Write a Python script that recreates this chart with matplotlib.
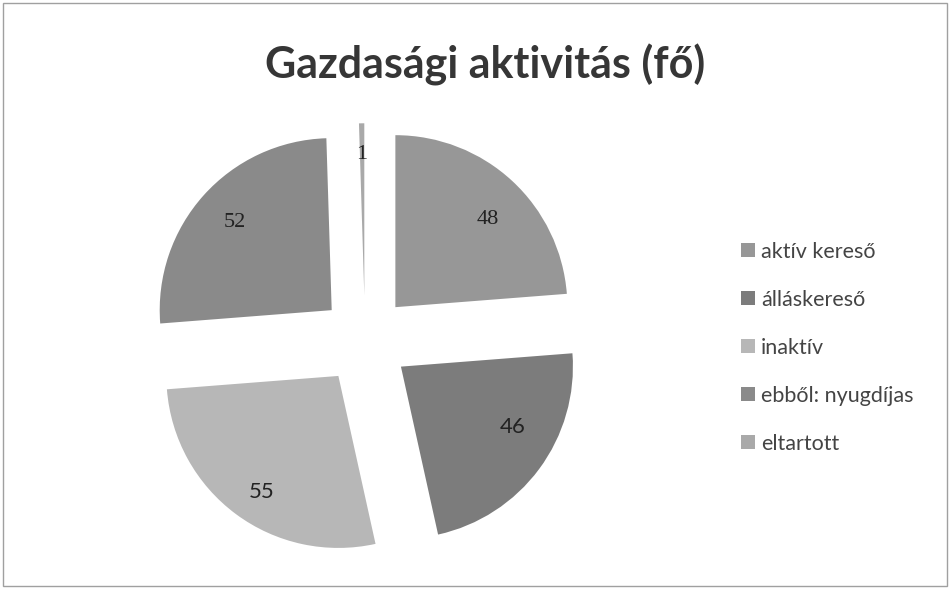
import matplotlib
matplotlib.use("Agg")
import numpy as np
import matplotlib.pyplot as plt
from matplotlib.patches import Rectangle, Patch

title = "Gazdasági aktivitás (fő)"
categories = ["aktív kereső", "álláskereső", "inaktív", "ebből: nyugdíjas", "eltartott"]
values = [48, 46, 55, 52, 1]
colors = ["#979797", "#7c7c7c", "#b7b7b7", "#8a8a8a", "#a9a9a9"]

W, H = 950, 589
fig = plt.figure(figsize=(W / 100, H / 100), dpi=100)
fig.patch.set_facecolor("white")

R_px = 172.0
cx, cy = 365.0, 340.0
box = 500.0
lim = box / 2 / R_px
ax = fig.add_axes([(cx - box / 2) / W, (H - cy - box / 2) / H, box / W, box / H])

explode = 0.26
wedges, texts, autotexts = ax.pie(
    values, colors=colors, startangle=90, counterclock=False,
    explode=[explode] * len(values), radius=1.0,
    autopct=lambda p: "{:.0f}".format(p * sum(values) / 100.0),
    pctdistance=0.76, wedgeprops=dict(linewidth=0),
    textprops=dict(fontsize=14, color="#222222"))
ax.set_xlim(-lim, lim)
ax.set_ylim(-lim, lim)
ax.set_aspect("equal")
ax.axis("off")

# per-label placement inside each exploded wedge (radius fraction, clockwise angle offset in degrees)
label_dist = [0.74, 0.74, 0.81, 0.76, 0.82]
label_rot = [4, -8, -3, 0, 0]
serif_idx = {0, 3, 4}
for i, (w, t) in enumerate(zip(wedges, autotexts)):
    w.set_clip_on(False)
    ang = np.deg2rad((w.theta1 + w.theta2) / 2 - label_rot[i])
    ox, oy = w.center
    t.set_position((ox + label_dist[i] * np.cos(ang), oy + label_dist[i] * np.sin(ang)))
    t.set_family("Liberation Serif" if i in serif_idx else "Lato")
    t.set_fontsize(16)

fig.text(485 / W, 1 - 65 / H, title, ha="center", va="center",
         fontsize=31, fontweight="bold", family="Lato", color="#363636")

handles = [Patch(facecolor=c, edgecolor="none") for c in colors]
leg = fig.legend(handles, categories, loc="upper left",
                 bbox_to_anchor=(732 / W, 1 - 233 / H), frameon=False,
                 prop=dict(family="Lato", size=15.5), labelcolor="#444444",
                 handlelength=0.65, handleheight=0.65, handletextpad=0.3,
                 labelspacing=1.3, borderaxespad=0)

fig.add_artist(Rectangle((3 / W, 3 / H), 944 / W, 583 / H, transform=fig.transFigure,
                         fill=False, edgecolor="#a0a0a0", linewidth=1))

fig.savefig("out.png", dpi=100, facecolor="white")
